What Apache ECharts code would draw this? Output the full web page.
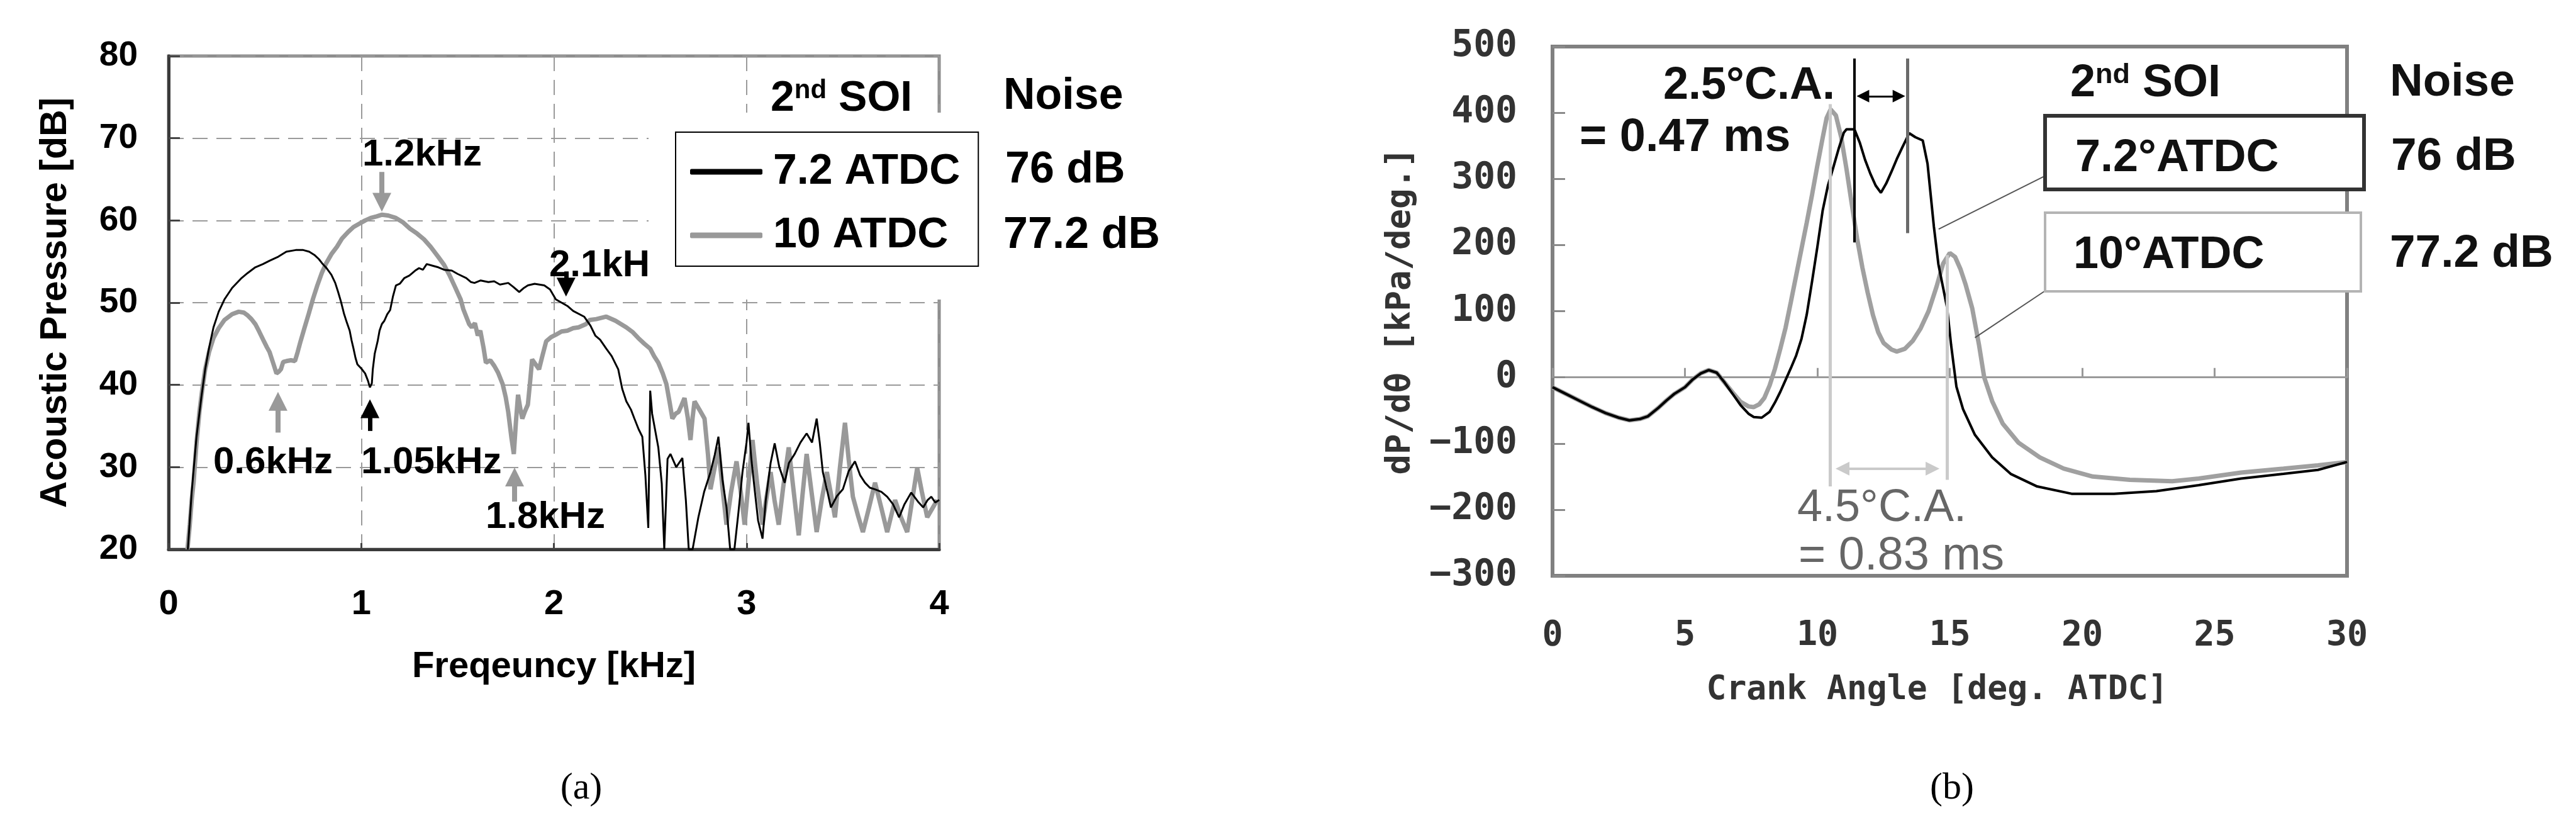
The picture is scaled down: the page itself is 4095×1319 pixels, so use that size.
<!DOCTYPE html>
<html><head><meta charset="utf-8">
<script src="https://cdn.jsdelivr.net/npm/echarts@6/dist/echarts.min.js"></script>
<style>html,body{margin:0;padding:0;background:#fff}#c{width:4095px;height:1319px}</style>
</head><body><div id="c"></div>
<script>
// ---------- (a) acoustic spectrum ----------
const freqTicks = [0, 1, 2, 3, 4];
const dbTicks = [20, 30, 40, 50, 60, 70, 80];
const seriesNames = ['7.2 ATDC', '10 ATDC'];
const noiseLevels = ['76 dB', '77.2 dB'];
const spl72 = [[0.10,20],[0.12,27],[0.145,33.7],[0.17,38.5],[0.19,41.9],[0.21,44.5],[0.233,47.0],[0.26,48.9],[0.29,50.4],[0.33,51.8],[0.379,53.0],[0.41,53.6],[0.45,54.3],[0.49,54.7],[0.524,55.1],[0.57,55.6],[0.611,56.2],[0.66,56.4],[0.699,56.4],[0.73,56.2],[0.757,55.8],[0.78,55.3],[0.80,54.7],[0.82,54.2],[0.845,53.4],[0.865,52.4],[0.88,51.3],[0.895,50.1],[0.91,48.7],[0.925,47.6],[0.94,46.6],[0.95,45.4],[0.96,44.4],[0.97,43.3],[0.98,42.5],[1.0,42.0],[1.02,41.4],[1.035,40.5],[1.045,39.7],[1.055,40.2],[1.06,41.9],[1.07,43.8],[1.085,45.3],[1.095,46.6],[1.107,47.4],[1.12,47.8],[1.135,48.6],[1.15,49.1],[1.165,50.8],[1.18,52.1],[1.20,52.3],[1.224,53.0],[1.25,53.3],[1.28,53.9],[1.30,54.2],[1.32,54.0],[1.34,54.7],[1.37,54.5],[1.40,54.3],[1.43,54.0],[1.47,53.9],[1.50,53.5],[1.545,53.0],[1.57,52.5],[1.588,52.4],[1.62,52.7],[1.66,52.5],[1.69,52.6],[1.72,52.2],[1.763,52.4],[1.79,51.9],[1.82,51.3],[1.845,51.8],[1.865,52.1],[1.90,52.3],[1.95,52.1],[1.98,51.6],[2.01,50.4],[2.04,50.0],[2.07,49.6],[2.10,49.0],[2.157,48.3],[2.19,47.2],[2.215,46.0],[2.24,45.5],[2.272,44.4],[2.30,43.5],[2.334,41.9],[2.355,39.5],[2.376,38.0],[2.40,37.0],[2.418,35.9],[2.44,34.6],[2.459,33.7],[2.475,29.0],[2.49,22.6],[2.50,39.3],[2.51,36.5],[2.542,32.4],[2.56,28],[2.573,20],[2.59,31.0],[2.605,31.6],[2.635,30.0],[2.667,31.1],[2.685,26],[2.70,20],[2.72,20],[2.75,23.9],[2.78,27.0],[2.813,29.4],[2.835,31.5],[2.854,33.7],[2.875,28.5],[2.896,25.1],[2.915,20],[2.937,20],[2.958,24.5],[2.979,29.4],[3.0,33.0],[3.01,35.4],[3.025,31],[3.042,27.3],[3.06,23.5],[3.083,21.3],[3.1,26],[3.125,30.5],[3.146,32.9],[3.17,30.0],[3.198,28.1],[3.22,30.5],[3.25,31.6],[3.28,33.0],[3.312,34.1],[3.34,33.0],[3.364,35.9],[3.38,33],[3.396,29.4],[3.42,27],[3.438,25.1],[3.47,26.5],[3.5,27.3],[3.53,29.5],[3.563,30.7],[3.59,29.0],[3.615,28.1],[3.64,27.5],[3.667,27.3],[3.7,27.0],[3.73,26.4],[3.76,25.5],[3.792,23.9],[3.82,25.5],[3.855,26.9],[3.89,25.8],[3.917,25.1],[3.94,26.0],[3.959,26.4],[3.98,25.7],[4.0,26.0]];
const spl10 = [[0.098,20],[0.11,23],[0.12,26],[0.13,28.2],[0.145,33],[0.16,36.7],[0.175,39.5],[0.19,41.9],[0.21,44.0],[0.233,45.7],[0.26,46.9],[0.29,47.9],[0.33,48.6],[0.364,48.9],[0.39,48.8],[0.408,48.5],[0.43,48.0],[0.45,47.4],[0.47,46.5],[0.495,45.3],[0.51,44.6],[0.524,44.0],[0.545,42.5],[0.56,41.4],[0.572,41.6],[0.583,41.9],[0.595,42.8],[0.612,42.9],[0.635,43.0],[0.656,42.9],[0.67,44.0],[0.685,45.3],[0.705,46.9],[0.728,48.7],[0.75,50.5],[0.772,52.1],[0.795,53.6],[0.816,54.7],[0.845,55.9],[0.874,56.8],[0.90,57.8],[0.932,58.6],[0.96,59.2],[0.99,59.6],[1.02,60.0],[1.049,60.3],[1.08,60.5],[1.108,60.7],[1.14,60.6],[1.18,60.3],[1.215,59.8],[1.253,59.0],[1.29,58.4],[1.326,57.7],[1.36,56.8],[1.399,55.6],[1.43,54.6],[1.457,53.4],[1.485,52.0],[1.516,50.4],[1.53,49.2],[1.545,48.3],[1.56,47.4],[1.574,47.0],[1.59,47.5],[1.605,46.0],[1.618,46.6],[1.635,44.5],[1.647,42.7],[1.67,43.0],[1.691,42.3],[1.71,41.5],[1.734,40.1],[1.75,38.5],[1.763,36.7],[1.78,33.5],[1.792,31.6],[1.803,35.5],[1.814,38.8],[1.825,37.2],[1.836,35.9],[1.85,36.8],[1.865,37.6],[1.877,40.5],[1.887,43.1],[1.905,42.5],[1.923,41.9],[1.94,43.5],[1.96,45.3],[1.985,45.8],[2.01,46.1],[2.04,46.5],[2.07,46.6],[2.10,46.9],[2.128,47.0],[2.167,47.4],[2.186,47.9],[2.22,48.0],[2.272,48.3],[2.32,47.8],[2.376,47.0],[2.41,46.4],[2.438,45.7],[2.47,45.0],[2.50,44.4],[2.52,43.5],[2.542,42.7],[2.565,41.4],[2.584,40.1],[2.60,38.0],[2.615,35.9],[2.632,36.5],[2.647,36.7],[2.662,37.5],[2.678,38.4],[2.695,36],[2.709,33.3],[2.72,36],[2.73,38.0],[2.755,37],[2.782,35.9],[2.80,31.5],[2.813,27.3],[2.835,30],[2.854,32.4],[2.875,27.5],[2.896,23.0],[2.92,27],[2.948,30.7],[2.97,27],[2.99,23.0],[3.01,28],[3.031,33.3],[3.055,28],[3.083,23.0],[3.105,26.5],[3.125,29.4],[3.145,26],[3.167,23.0],[3.19,27.5],[3.219,32.4],[3.245,27],[3.271,21.7],[3.29,26.5],[3.312,31.6],[3.34,26.5],[3.364,22.1],[3.39,26],[3.417,29.4],[3.44,26.5],[3.459,23.9],[3.485,30],[3.511,35.4],[3.53,31],[3.552,26.4],[3.58,24],[3.604,22.1],[3.635,25],[3.667,28.1],[3.70,25],[3.73,22.1],[3.75,24],[3.771,26.0],[3.80,24],[3.834,22.1],[3.86,26],[3.886,29.9],[3.91,27],[3.938,23.9],[3.965,25],[3.99,26.0]];
// arrow annotations: [freq, from dB, to dB]
const arrowsGray = [[1.107, 65.9, 62.2], [0.568, 34.2, 38.0], [1.796, 25.8, 28.8]];
const arrowsBlack = [[1.045, 34.4, 37.1], [2.063, 53.8, 51.9]];

// ---------- (b) pressure rise rate ----------
const caTicks = [0, 5, 10, 15, 20, 25, 30];
const dpTicks = [-300, -200, -100, 0, 100, 200, 300, 400, 500];
const dp72 = [[0,-15],[0.5,-25],[1,-35],[1.5,-45],[2,-54],[2.5,-61],[2.9,-65],[3.3,-63],[3.6,-59],[4,-46],[4.3,-35],[4.6,-25],[5,-15],[5.3,-3],[5.6,6],[5.9,11],[6.2,7],[6.5,-8],[6.8,-25],[7.1,-42],[7.4,-55],[7.6,-60],[7.9,-61],[8.2,-52],[8.4,-38],[8.6,-22],[8.8,-4],[9,14],[9.2,33],[9.4,58],[9.6,95],[9.8,145],[10,197],[10.2,252],[10.4,290],[10.6,317],[10.8,345],[11,370],[11.1,375],[11.4,375],[11.6,355],[11.8,329],[12,308],[12.2,290],[12.4,279],[12.6,293],[12.8,311],[13,330],[13.2,347],[13.47,369],[13.7,363],[13.98,358],[14.16,323],[14.4,228],[14.57,171],[14.75,135],[14.9,105],[15.05,49],[15.25,-14],[15.5,-48],[15.95,-87],[16.6,-121],[17.3,-146],[18.3,-165],[19.6,-176],[21.2,-176],[22.8,-172],[24.4,-163],[26,-153],[27.6,-146],[28.9,-140],[30,-128]];
const dp10 = [[0,-15],[0.5,-25],[1,-35],[1.5,-45],[2,-54],[2.5,-61],[2.9,-65],[3.3,-63],[3.6,-59],[4,-46],[4.3,-35],[4.6,-25],[5,-15],[5.3,-3],[5.6,6],[5.9,11],[6.2,7],[6.5,-8],[6.8,-23],[7.1,-37],[7.4,-44],[7.6,-45],[7.8,-41],[8,-31],[8.2,-12],[8.4,13],[8.6,43],[8.8,75],[9,114],[9.2,154],[9.4,194],[9.6,234],[9.8,276],[10,320],[10.2,362],[10.35,392],[10.5,405],[10.7,396],[10.9,363],[11.1,315],[11.3,262],[11.5,210],[11.7,166],[11.9,128],[12.1,94],[12.3,68],[12.5,52],[12.8,42],[13,39],[13.3,43],[13.6,55],[13.9,74],[14.2,100],[14.5,137],[14.75,172],[15,188],[15.2,182],[15.4,164],[15.6,140],[15.85,104],[16.1,50],[16.3,0],[16.6,-36],[17,-70],[17.6,-99],[18.4,-121],[19.3,-138],[20.4,-150],[21.8,-155],[23.4,-157],[24.4,-153],[26,-144],[27.6,-138],[28.9,-133],[30,-128]];
const seriesNamesB = ['7.2°ATDC', '10°ATDC'];
// reference lines: black peaks, gray peaks
const blackPeaks = [11.39, 13.41];
const grayPeaks = [10.475, 14.9];

const SANS = 'Liberation Sans';
const MONO = 'DejaVu Sans Mono';

function txt(x, y, text, size, opt) {
  opt = opt || {};
  return {
    type: 'text', x: x, y: y, z: opt.z || 12,
    style: {
      text: text, fontSize: size, fontFamily: opt.family || SANS,
      fontWeight: opt.weight || 'bold', fill: opt.color || '#000',
      align: opt.align || 'left', verticalAlign: 'middle',
      textAlign: opt.align || 'left', textVerticalAlign: 'middle',
      rich: opt.rich
    }
  };
}
function soi(x, y, size, color) {
  const r = {
    m: { fontSize: size, fontWeight: 'bold', fontFamily: SANS, fill: color, color: color },
    s: { fontSize: Math.round(size * 0.62), fontWeight: 'bold', fontFamily: SANS, fill: color, color: color, verticalAlign: 'top', padding: [0, 0, 0, 0] }
  };
  return txt(x, y, '{m|2}{s|nd}{m| SOI}', size, { rich: r, color: color });
}
function vArrow(list, color, width) {
  return list.map(a => [
    { coord: [a[0], a[1]], symbol: 'none', lineStyle: { color: color, width: width, type: 'solid' } },
    { coord: [a[0], a[2]], symbol: 'triangle', symbolSize: 30 }
  ]);
}

const chart = echarts.init(document.getElementById('c'), null, { renderer: 'canvas', width: 4095, height: 1319 });

const option = {
  animation: false,
  backgroundColor: '#fff',
  grid: [
    { left: 268, top: 89, width: 1225, height: 784, show: true, borderColor: '#8c8c8c', borderWidth: 5, backgroundColor: 'transparent' },
    { left: 2468, top: 74, width: 1263, height: 841, show: true, borderColor: '#808080', borderWidth: 6, backgroundColor: 'transparent' }
  ],
  xAxis: [
    {
      gridIndex: 0, type: 'value', min: freqTicks[0], max: freqTicks[freqTicks.length - 1], interval: 1,
      axisLine: { show: true, onZero: false, lineStyle: { color: '#3a3a3a', width: 5 } },
      axisTick: { show: true, inside: true, length: 10, lineStyle: { color: '#444', width: 3 } },
      axisLabel: { fontSize: 56, fontWeight: 'bold', fontFamily: SANS, color: '#000', margin: 60 },
      splitLine: { show: true, lineStyle: { color: '#9a9a9a', width: 2, type: [24, 14] } },
      name: 'Freqeuncy [kHz]', nameLocation: 'middle', nameGap: 158,
      nameTextStyle: { fontSize: 58, fontWeight: 'bold', fontFamily: SANS, color: '#000' }
    },
    {
      gridIndex: 1, type: 'value', min: caTicks[0], max: caTicks[caTicks.length - 1], interval: 5, position: 'bottom',
      axisLine: { show: false, onZero: false },
      axisTick: { show: false },
      axisLabel: { fontSize: 55, fontWeight: 'bold', fontFamily: MONO, color: '#333', margin: 68 },
      splitLine: { show: false },
      name: 'Crank Angle [deg. ATDC]', nameLocation: 'middle', nameGap: 156,
      nameTextStyle: { fontSize: 53, fontWeight: 'bold', fontFamily: MONO, color: '#333', padding: [0, 40, 0, 0] }
    },
    {
      gridIndex: 1, type: 'value', min: caTicks[0], max: caTicks[caTicks.length - 1], interval: 5, position: 'top',
      axisLine: { show: true, onZero: true, lineStyle: { color: '#9a9a9a', width: 3 } },
      axisTick: { show: true, inside: false, length: 15, lineStyle: { color: '#999', width: 3 } },
      axisLabel: { show: false },
      splitLine: { show: false }
    }
  ],
  yAxis: [
    {
      gridIndex: 0, type: 'value', min: dbTicks[0], max: dbTicks[dbTicks.length - 1], interval: 10,
      axisLine: { show: true, lineStyle: { color: '#3a3a3a', width: 5 } },
      axisTick: { show: true, inside: true, length: 18, lineStyle: { color: '#444', width: 3 } },
      axisLabel: { fontSize: 55, fontWeight: 'bold', fontFamily: SANS, color: '#000', margin: 49 },
      splitLine: { show: true, lineStyle: { color: '#9a9a9a', width: 2, type: [24, 14] } },
      name: 'Acoustic Pressure [dB]', nameLocation: 'middle', nameGap: 150,
      nameTextStyle: { fontSize: 59, fontWeight: 'bold', fontFamily: SANS, color: '#000' }
    },
    {
      gridIndex: 1, type: 'value', min: dpTicks[0], max: dpTicks[dpTicks.length - 1], interval: 100,
      axisLine: { show: false },
      axisTick: { show: true, inside: true, length: 20, lineStyle: { color: '#8a8a8a', width: 3 } },
      axisLabel: { fontSize: 58, fontWeight: 'bold', fontFamily: MONO, color: '#333', margin: 56,
        formatter: v => String(v).replace('-', '−') },
      splitLine: { show: false },
      name: 'dP/dθ [kPa/deg.]', nameLocation: 'middle', nameGap: 214,
      nameTextStyle: { fontSize: 54, fontWeight: 'bold', fontFamily: MONO, color: '#333' }
    }
  ],
  legend: {
    data: seriesNames, orient: 'vertical', left: 1074, top: 210,
    padding: [24, 29, 10, 23], itemWidth: 115, itemHeight: 9, itemGap: 23, icon: 'roundRect',
    borderColor: '#000', borderWidth: 2, backgroundColor: '#fff', borderRadius: 0,
    selectedMode: false, z: 6,
    textStyle: { fontSize: 68, fontWeight: 'bold', fontFamily: SANS, color: '#000', lineHeight: 78, padding: [0, 0, 0, 12] }
  },
  series: [
    {
      name: seriesNames[1], type: 'line', xAxisIndex: 0, yAxisIndex: 0, data: spl10,
      showSymbol: false, symbol: 'none', color: '#999', lineStyle: { color: '#999', width: 7 }, z: 3, clip: true,
      markLine: { silent: true, animation: false, label: { show: false }, data: vArrow(arrowsGray, '#999', 8) }
    },
    {
      name: seriesNames[0], type: 'line', xAxisIndex: 0, yAxisIndex: 0, data: spl72,
      showSymbol: false, symbol: 'none', color: '#000', lineStyle: { color: '#000', width: 3 }, z: 4, clip: true,
      markLine: { silent: true, animation: false, label: { show: false }, data: vArrow(arrowsBlack, '#000', 7) }
    },
    {
      name: seriesNamesB[1], type: 'line', xAxisIndex: 1, yAxisIndex: 1, data: dp10,
      showSymbol: false, symbol: 'none', color: '#a0a0a0', lineStyle: { color: '#a0a0a0', width: 7 }, z: 3,
      markLine: {
        silent: true, animation: false, label: { show: false }, symbol: 'none',
        data: [
          [{ coord: [grayPeaks[0], 413], symbol: 'none', lineStyle: { color: '#cacaca', width: 5, type: 'solid' } }, { coord: [grayPeaks[0], -165], symbol: 'none' }],
          [{ coord: [grayPeaks[1], 185], symbol: 'none', lineStyle: { color: '#cacaca', width: 5, type: 'solid' } }, { coord: [grayPeaks[1], -155], symbol: 'none' }],
          [{ coord: [10.95, -138], symbol: 'triangle', symbolSize: 22, lineStyle: { color: '#cacaca', width: 4, type: 'solid' } }, { coord: [14.35, -138], symbol: 'triangle', symbolSize: 22 }],
          [{ coord: [18.57, 130], symbol: 'none', lineStyle: { color: '#555', width: 2, type: 'solid' } }, { coord: [15.95, 60], symbol: 'none' }]
        ]
      }
    },
    {
      name: seriesNamesB[0], type: 'line', xAxisIndex: 1, yAxisIndex: 1, data: dp72,
      showSymbol: false, symbol: 'none', color: '#000', lineStyle: { color: '#000', width: 4 }, z: 4,
      markLine: {
        silent: true, animation: false, label: { show: false }, symbol: 'none',
        data: [
          [{ coord: [blackPeaks[0], 482], symbol: 'none', lineStyle: { color: '#000', width: 4, type: 'solid' } }, { coord: [blackPeaks[0], 204], symbol: 'none' }],
          [{ coord: [blackPeaks[1], 482], symbol: 'none', lineStyle: { color: '#6a6a6a', width: 5, type: 'solid' } }, { coord: [blackPeaks[1], 218], symbol: 'none' }],
          [{ coord: [11.72, 425], symbol: 'triangle', symbolSize: 20, lineStyle: { color: '#000', width: 3, type: 'solid' } }, { coord: [13.08, 425], symbol: 'triangle', symbolSize: 20 }],
          [{ coord: [18.57, 304], symbol: 'none', lineStyle: { color: '#555', width: 2, type: 'solid' } }, { coord: [14.58, 224], symbol: 'none' }]
        ]
      }
    }
  ],
  graphic: [
    // white panel behind the left legend
    { type: 'rect', z: 1, shape: { x: 1031, y: 179, width: 570, height: 297 }, style: { fill: '#fff' } },
    soi(1225, 157, 68, '#000'),
    txt(1595, 154, 'Noise', 70),
    txt(1598, 271, noiseLevels[0], 70),
    txt(1595, 375, noiseLevels[1], 70),
    txt(576, 246, '1.2kHz', 60),
    txt(339, 735, '0.6kHz', 60),
    txt(574, 735, '1.05kHz', 60),
    txt(772, 822, '1.8kHz', 60),
    txt(873, 422, '2.1kH', 60),
    // right chart annotations
    txt(2644, 137, '2.5°C.A.', 72, { color: '#111' }),
    txt(2511, 220, '= 0.47 ms', 74, { color: '#111' }),
    soi(3291, 133, 72, '#111'),
    txt(3799, 132, 'Noise', 73, { color: '#111' }),
    { type: 'rect', z: 10, shape: { x: 3251, y: 184, width: 507, height: 117 }, style: { fill: '#fff', stroke: '#333', lineWidth: 6 } },
    txt(3299, 252, seriesNamesB[0], 72, { color: '#111' }),
    txt(3801, 250, noiseLevels[0], 73, { color: '#111' }),
    { type: 'rect', z: 10, shape: { x: 3251, y: 338, width: 502, height: 125 }, style: { fill: '#fff', stroke: '#b4b4b4', lineWidth: 4 } },
    txt(3296, 406, seriesNamesB[1], 72, { color: '#111' }),
    txt(3799, 404, noiseLevels[1], 73, { color: '#111' }),
    txt(2857, 808, '4.5°C.A.', 72, { color: '#666', weight: 'normal' }),
    txt(2859, 885, '= 0.83 ms', 74, { color: '#666', weight: 'normal' }),
    // captions
    txt(924, 1253, '(a)', 60, { family: 'Liberation Serif', weight: 'normal', align: 'center' }),
    txt(3103, 1253, '(b)', 60, { family: 'Liberation Serif', weight: 'normal', align: 'center' })
  ]
};
chart.setOption(option);
</script>
</body></html>
